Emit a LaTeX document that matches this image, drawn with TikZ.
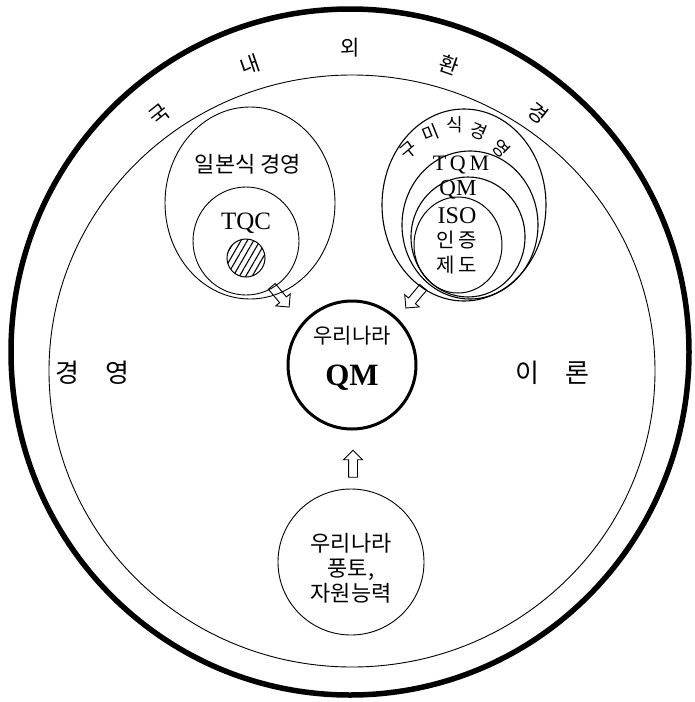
\documentclass[tikz,border=0pt]{standalone}
\usepackage{fontspec}
\setmainfont{Liberation Serif}
\newfontfamily\kr{Noto Sans CJK KR}
\usetikzlibrary{shapes.arrows,patterns.meta}
\begin{document}
\begin{tikzpicture}[x=1pt,y=-1pt,
  kor/.style={font=\kr\fontsize{#1}{#1}\selectfont},
  lat/.style={font=\fontsize{#1}{#1}\selectfont},
  flow/.style={single arrow,draw,line width=.9pt,minimum height=27pt,single arrow head extend=5pt,inner sep=4pt}]
\useasboundingbox (0,0) rectangle (694,702);
% environment rings
\draw[line width=5.5pt] (350,352) ellipse [x radius=339, y radius=343];
\draw[line width=.9pt] (352,371) ellipse [x radius=303, y radius=296];
\foreach \a/\t [count=\i] in {128.5/국,109/내,90/외,71/환,52/경}
  \node[kor=21,rotate=\a-90] (ring\i) at ({350+306*cos(\a)},{354-306*sin(\a)}) {\t};
% japanese style
\draw[line width=.9pt] (250,203) ellipse [x radius=85, y radius=96];
\draw[line width=.9pt] (246,241) ellipse [x radius=53, y radius=54];
\node[kor=22] (japan) at (248,164) {일본식 경영};
\node[lat=25] (tqc) at (246,223) {TQC};
\draw[line width=1pt,pattern={Lines[angle=60,distance=5.5pt,line width=1.1pt]}] (246,258) circle [radius=19];
% western style
\draw[line width=1.1pt] (464,205) ellipse [x radius=82, y radius=96];
\draw[line width=1.1pt] (470,225) ellipse [x radius=68, y radius=74];
\draw[line width=1.1pt] (468,237) ellipse [x radius=57, y radius=60];
\draw[line width=1pt] (458,245) ellipse [x radius=44, y radius=48];
\foreach \x/\y/\r/\t [count=\i] in {409/150/40/구,431/133/22/미,455/125/0/식,479/131/-22/경,501/149/-45/영}
  \node[kor=18,rotate=\r,inner sep=1pt] (west\i) at (\x,\y) {\t};
\node[lat=22] (tqm) at (461,165) {T\,Q\,M};
\node[lat=23] (qm) at (458,190) {QM};
\node[lat=24] (iso) at (457,216) {ISO};
\node[kor=20] (cert) at (457,240) {인\,증};
\node[kor=20] (sys) at (457,265) {제\,도};
% korean QM
\draw[line width=3pt] (352,365) circle [radius=64];
\node[kor=21] (our) at (352,336) {우리나라};
\node[font=\bfseries\fontsize{31}{31}\selectfont] (kqm) at (352,378) {QM};
\node[kor=26] (mgmt) at (92,373) {경\hspace{26pt}영};
\node[kor=26] (theory) at (552,373) {이\hspace{26pt}론};
% base
\draw[line width=.9pt] (351,562) circle [radius=73];
\node[align=center,text width=120pt,font=\kr\fontsize{22}{25}\selectfont] (base) at (351,568) {우리나라\\풍토,\\자원능력};
% arrows
\node[flow,rotate=-50] (a1) at (279,295) {};
\node[flow,rotate=-130] (a2) at (416,296) {};
\node[flow,rotate=90] (a3) at (353,466) {};
\end{tikzpicture}
\end{document}
